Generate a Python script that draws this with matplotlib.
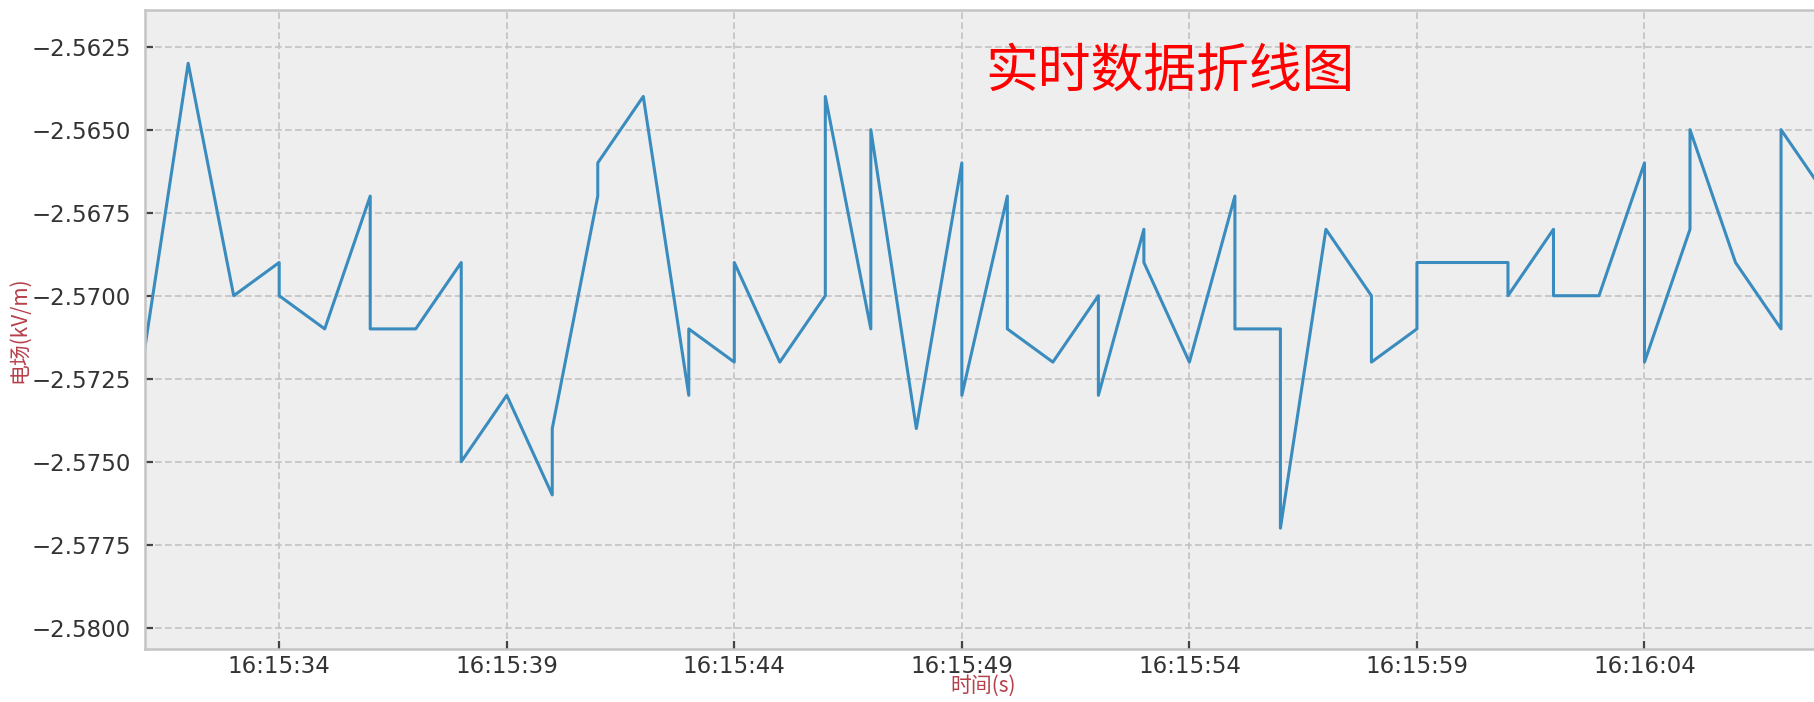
import pandas as pd
import matplotlib
matplotlib.use("Agg")
import matplotlib.pyplot as plt
import matplotlib.dates as mdates
from matplotlib.ticker import MultipleLocator, FuncFormatter

# Data (timestamps are truncated to the second, so some repeat)
times = ["16:15:31", "16:15:32", "16:15:33", "16:15:34", "16:15:34", "16:15:35",
         "16:15:36", "16:15:36", "16:15:37", "16:15:38", "16:15:38", "16:15:39",
         "16:15:40", "16:15:40", "16:15:41", "16:15:41", "16:15:42", "16:15:43",
         "16:15:43", "16:15:44", "16:15:44", "16:15:45", "16:15:46", "16:15:46",
         "16:15:47", "16:15:47", "16:15:48", "16:15:49", "16:15:49", "16:15:50",
         "16:15:50", "16:15:51", "16:15:52", "16:15:52", "16:15:53", "16:15:53",
         "16:15:54", "16:15:55", "16:15:55", "16:15:56", "16:15:56", "16:15:57",
         "16:15:58", "16:15:58", "16:15:59", "16:15:59", "16:16:00", "16:16:01",
         "16:16:01", "16:16:02", "16:16:02", "16:16:03", "16:16:04", "16:16:04",
         "16:16:05", "16:16:05", "16:16:06", "16:16:07", "16:16:07", "16:16:08"]
field = [-2.572, -2.563, -2.570, -2.569, -2.570, -2.571,
         -2.567, -2.571, -2.571, -2.569, -2.575, -2.573,
         -2.576, -2.574, -2.567, -2.566, -2.564, -2.573,
         -2.571, -2.572, -2.569, -2.572, -2.570, -2.564,
         -2.571, -2.565, -2.574, -2.566, -2.573, -2.567,
         -2.571, -2.572, -2.570, -2.573, -2.568, -2.569,
         -2.572, -2.567, -2.571, -2.571, -2.577, -2.568,
         -2.570, -2.572, -2.571, -2.569, -2.569, -2.569,
         -2.570, -2.568, -2.570, -2.570, -2.566, -2.572,
         -2.568, -2.565, -2.569, -2.571, -2.565, -2.567]

t = pd.to_datetime(["2024-01-01 " + s for s in times])

plt.style.use("bmh")
plt.rcParams['font.family'] = ['Noto Sans CJK SC', 'DejaVu Sans']
plt.rcParams['axes.unicode_minus'] = True

fig = plt.figure(figsize=(18.14, 7.02), dpi=100)
ax = fig.add_axes([0.0799, 0.075, 0.924, 0.9108])

ax.plot(t, field, color='#3a8cbf', linewidth=2.2)

ax.set_xlim(pd.Timestamp("2024-01-01 16:15:31.05"), pd.Timestamp("2024-01-01 16:16:07.88"))
ax.set_ylim(-2.58065, -2.561395)

ax.xaxis.set_major_locator(mdates.SecondLocator(bysecond=range(4, 60, 5)))
ax.xaxis.set_major_formatter(mdates.DateFormatter('%H:%M:%S'))
ax.yaxis.set_major_locator(MultipleLocator(0.0025))
ax.yaxis.set_major_formatter(FuncFormatter(lambda v, pos: f"{v:.4f}".replace("-", "\u2212")))

ax.set_facecolor('#eeeeee')
ax.grid(True, color='#c2c2c2', linestyle=(0, (4, 2)), linewidth=1.2)
for sp in ax.spines.values():
    sp.set_color('#c4c4c4')
    sp.set_linewidth(1.8)

ax.tick_params(axis='both', direction='in', length=6, width=1.6, color='#444444',
               labelsize=16.5, labelcolor='#333333')
ax.tick_params(axis='x', pad=4)
ax.tick_params(axis='y', pad=10)
for lab in ax.get_xticklabels() + ax.get_yticklabels():
    lab.set_family('DejaVu Sans')

ax.set_xlabel("时间(s)", color='#b5404a', fontsize=15, labelpad=-2)
ax.set_ylabel("电场(kV/m)", color='#b5404a', fontsize=15, labelpad=1)

fig.text(0.543, 0.899, "实时数据折线图", color='red', fontsize=38,
         ha='left', va='center')

fig.savefig("out.png", dpi=100)
